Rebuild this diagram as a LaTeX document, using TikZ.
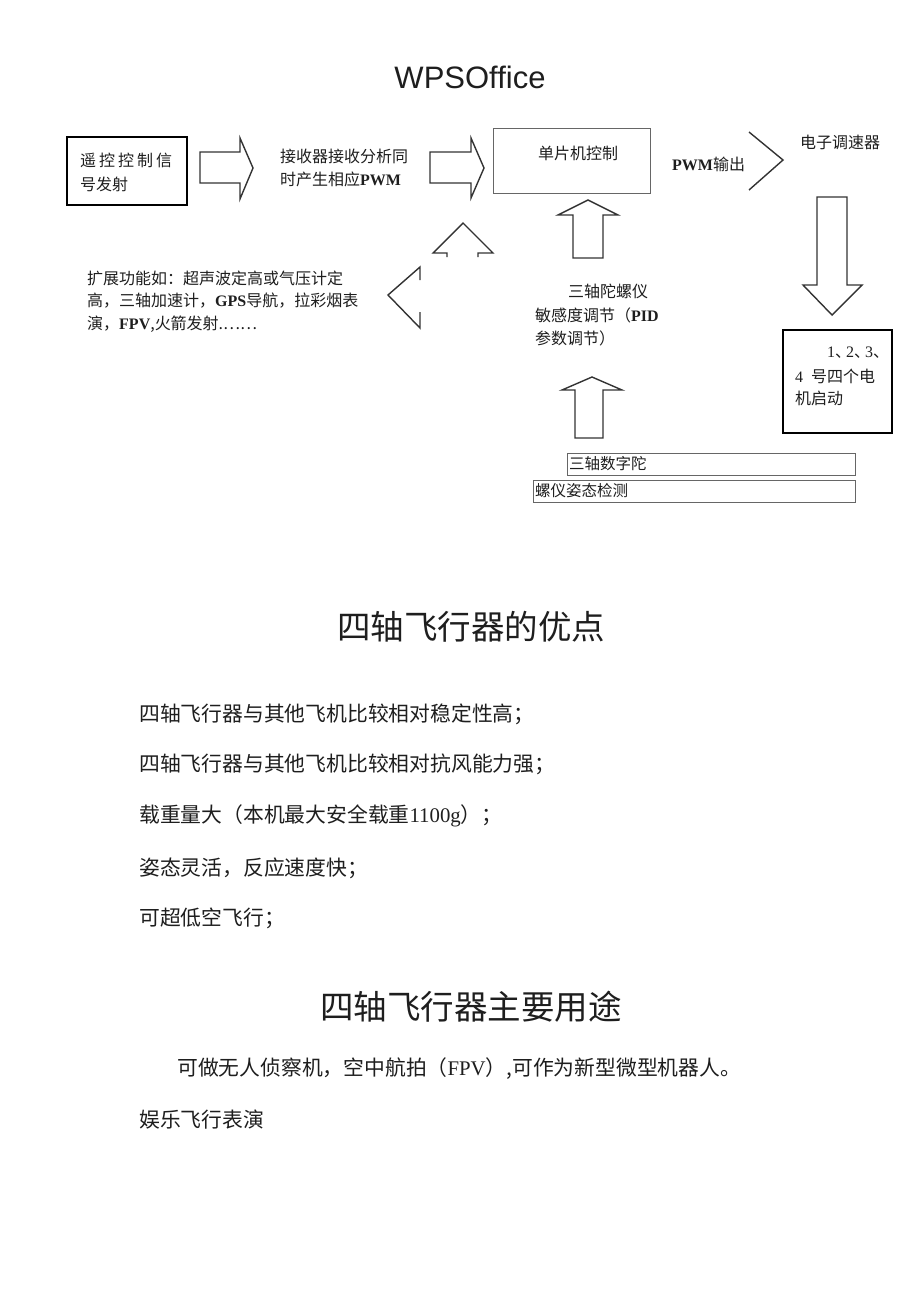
\documentclass[tikz,border=0pt]{standalone}
\usepackage{fontspec}
\setmainfont{Liberation Serif}
\newfontfamily\cjk{Noto Sans CJK SC}
\newfontfamily\wpsfont{Liberation Sans}
\newfontfamily\latserif{Liberation Serif}
\newcommand\latbold[1]{{\latserif\bfseries #1}}
\definecolor{ink}{HTML}{1E1E1E}
\definecolor{linegray}{HTML}{333333}
\definecolor{boxgray}{HTML}{666666}
\tikzset{
  sm/.style={inner sep=0pt, anchor=west, text=ink, font=\cjk\fontsize{16}{18}\selectfont},
  body/.style={inner sep=0pt, anchor=west, text=ink, font=\cjk\fontsize{20.8}{23}\selectfont},
  heading/.style={inner sep=0pt, text=ink, font=\cjk\fontsize{33.5}{36}\selectfont},
  blockarrow/.style={draw=linegray, line width=1.4pt, line join=miter},
  thickbox/.style={draw=black, line width=2pt, inner sep=0pt},
  thinbox/.style={draw=boxgray, line width=0.9pt, inner sep=0pt},
}
\begin{document}
\begin{tikzpicture}[x=1pt,y=-1pt]
\useasboundingbox[fill=white] (0,0) rectangle (920,1302);

% title
\node[inner sep=0pt, text=ink, font=\wpsfont\fontsize{31}{33}\selectfont] (title) at (470,77) {WPSOffice};

% box 1
\node[thickbox, minimum width=120pt, minimum height=68pt] (rc) at (127,171) {};
\node[sm] (rc1) at (80,160) {遥\hspace{3pt}控\hspace{3pt}控\hspace{3pt}制\hspace{3pt}信};
\node[sm] (rc2) at (80,184) {号发射};

% arrow 1
\draw[blockarrow] (200,152) -- (240,152) -- (240,138) -- (253,168) -- (240,199) -- (240,183) -- (200,183) -- cycle;

% receiver text
\node[sm] (rx1) at (280,156) {接收器接收分析同};
\node[sm] (rx2) at (280,179) {时产生相应\latbold{PWM}};

% arrow 2
\draw[blockarrow] (430,152) -- (471,152) -- (471,138) -- (484,168) -- (471,198) -- (471,183) -- (430,183) -- cycle;

% MCU box
\node[thinbox, minimum width=157pt, minimum height=65pt] (mcu) at (571.5,160.5) {};
\node[sm] (mcut) at (538,153) {单片机控制};

% PWM output
\node[sm] (pwm) at (672,164) {\latbold{PWM}输出};

% chevron
\draw[linegray, line width=1.4pt, line join=miter] (749,132) -- (783,160) -- (749,190);

% ESC
\node[sm] (esc) at (800,142) {电子调速器};

% down arrow
\draw[blockarrow] (817,197) -- (847,197) -- (847,285) -- (862,285) -- (832,315) -- (803,285) -- (817,285) -- cycle;

% motor box
\node[thickbox, minimum width=109pt, minimum height=103pt] (motor) at (837.5,381.5) {};
\node[sm] (m1) at (827,353) {{\latserif 1}、\hspace{-5pt}{\latserif 2}、\hspace{-5pt}{\latserif 3}、};
\node[sm] (m2) at (795,376) {{\latserif 4}\hspace{8pt}号四个电};
\node[sm] (m3) at (795,398) {机启动};

% up arrow 1
\draw[blockarrow] (573,258) -- (573,215) -- (558,215) -- (588,200) -- (618,215) -- (603,215) -- (603,258) -- cycle;

% gyro text
\node[sm] (g1) at (568,291) {三轴陀螺仪};
\node[sm] (g2) at (535,315) {敏感度调节（\latbold{PID}};
\node[sm] (g3) at (535,338) {参数调节）};

% up arrow 2
\draw[blockarrow] (575,438) -- (575,390) -- (562,390) -- (592,377) -- (622,390) -- (603,390) -- (603,438) -- cycle;

% small boxes
\node[thinbox, minimum width=288pt, minimum height=22pt] (s1) at (711,464) {};
\node[sm, font=\cjk\fontsize{15.5}{17}\selectfont] (s1t) at (569,464) {三轴数字陀};
\node[thinbox, minimum width=322pt, minimum height=22pt] (s2) at (694,491) {};
\node[sm, font=\cjk\fontsize{15.5}{17}\selectfont] (s2t) at (535,491) {螺仪姿态检测};

% partial up arrow
\draw[linegray, line width=1.4pt, line join=miter] (447,257) -- (447,253) -- (433,253) -- (463,223) -- (493,253) -- (478,253) -- (478,257);
% partial left arrow
\draw[linegray, line width=1.4pt, line join=miter] (420,280) -- (420,267) -- (388,295) -- (420,328) -- (420,312);

% extension text
\node[sm] (e1) at (87,278) {扩展功能如：超声波定高或气压计定};
\node[sm] (e2) at (87,301) {高，三轴加速计，\latbold{GPS}导航，拉彩烟表};
\node[sm] (e3) at (87,324) {演，\latbold{FPV},火箭发射.……};

% advantages
\node[heading] (h1) at (471,627) {四轴飞行器的优点};
\node[body] (b1) at (139,714) {四轴飞行器与其他飞机比较相对稳定性高；};
\node[body] (b2) at (139,764) {四轴飞行器与其他飞机比较相对抗风能力强；};
\node[body] (b3) at (139,816) {载重量大（本机最大安全载重{\latserif 1100g}）；};
\node[body] (b4) at (139,868) {姿态灵活，反应速度快；};
\node[body] (b5) at (139,918) {可超低空飞行；};

% uses
\node[heading] (h2) at (471,1007) {四轴飞行器主要用途};
\node[body] (u1) at (177,1069) {可做无人侦察机，空中航拍（{\latserif FPV}）,可作为新型微型机器人。};
\node[body] (u2) at (139,1120) {娱乐飞行表演};
\end{tikzpicture}
\end{document}
